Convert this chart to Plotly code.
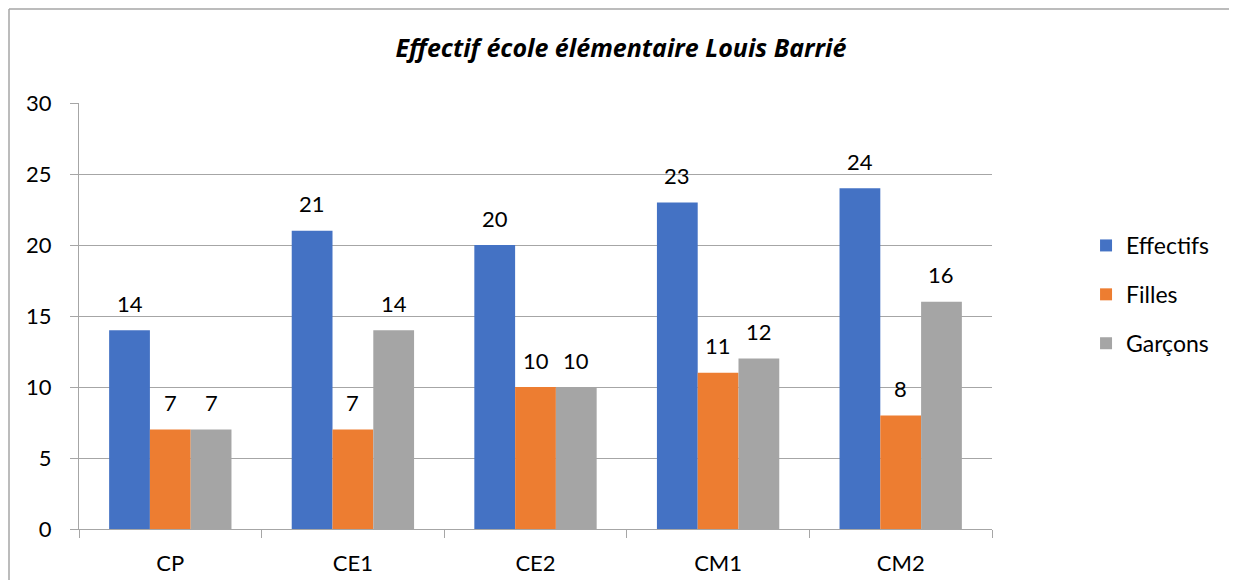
import plotly.graph_objects as go

classes = ["CP", "CE1", "CE2", "CM1", "CM2"]
effectifs = [14, 21, 20, 23, 24]
filles = [7, 7, 10, 11, 8]
garcons = [7, 14, 10, 12, 16]

series = [
    ("Effectifs", effectifs, "#4472C4"),
    ("Filles", filles, "#ED7D31"),
    ("Garçons", garcons, "#A5A5A5"),
]

FONT = "Lato, 'Open Sans', sans-serif"
TFONT = "'Open Sans', Lato, sans-serif"

fig = go.Figure()
for name, vals, col in series:
    fig.add_trace(
        go.Bar(
            x=classes,
            y=vals,
            name=name,
            legendgroup=name,
            marker=dict(color=col, line=dict(width=0)),
        )
    )

# étiquettes de valeurs au-dessus des barres (décalage à la façon Excel)
bargap = 0.33
w = (1 - bargap) / len(series)
for k, (name, vals, col) in enumerate(series):
    off = (k - (len(series) - 1) / 2) * w
    for i, v in enumerate(vals):
        fig.add_annotation(
            x=i + off,
            y=v,
            xref="x",
            yref="y",
            text=str(v),
            showarrow=False,
            yanchor="middle",
            yshift=27,
            font=dict(size=22, color="#000000", family=FONT),
        )

# cadre du graphique (bords gauche et haut seulement visibles)
bx = (9 - 79) / 913
by = (529 - 9) / 426
border = dict(color="#A6A6A6", width=1.5)
fig.add_shape(type="line", xref="paper", yref="paper",
              x0=bx, x1=bx, y0=-0.2, y1=by, line=border)
fig.add_shape(type="line", xref="paper", yref="paper",
              x0=bx, x1=1.4, y0=by, y1=by, line=border)

fig.update_xaxes(
    showline=True,
    linecolor="#A6A6A6",
    linewidth=1,
    ticks="outside",
    tickson="boundaries",
    ticklen=8,
    tickcolor="#A6A6A6",
    tickfont=dict(size=22, color="#000000", family=FONT),
    ticklabelstandoff=15,
    showgrid=False,
)
fig.update_yaxes(
    range=[0, 30],
    dtick=5,
    showline=True,
    linecolor="#A6A6A6",
    linewidth=1,
    ticks="outside",
    ticklen=8,
    tickcolor="#A6A6A6",
    gridcolor="#A6A6A6",
    gridwidth=1,
    zeroline=False,
    tickfont=dict(size=22, color="#000000", family=FONT),
    ticklabelstandoff=14,
)

fig.update_layout(
    title=dict(
        text="<b><i>Effectif école élémentaire Louis Barrié</i></b>",
        x=613 / 1237,
        xanchor="center",
        y=1 - 40 / 580,
        yanchor="middle",
        font=dict(size=25, color="#000000", family=TFONT),
    ),
    barmode="group",
    bargap=bargap,
    bargroupgap=0,
    width=1237,
    height=580,
    margin=dict(l=71, r=253, t=95, b=59),
    plot_bgcolor="white",
    paper_bgcolor="white",
    showlegend=True,
    legend=dict(
        x=1.103,
        y=0.716,
        yanchor="top",
        xanchor="left",
        font=dict(size=23, color="#000000", family=FONT),
        tracegroupgap=16,
        itemwidth=30,
        bgcolor="rgba(0,0,0,0)",
    ),
)

fig.write_html("out.html")
